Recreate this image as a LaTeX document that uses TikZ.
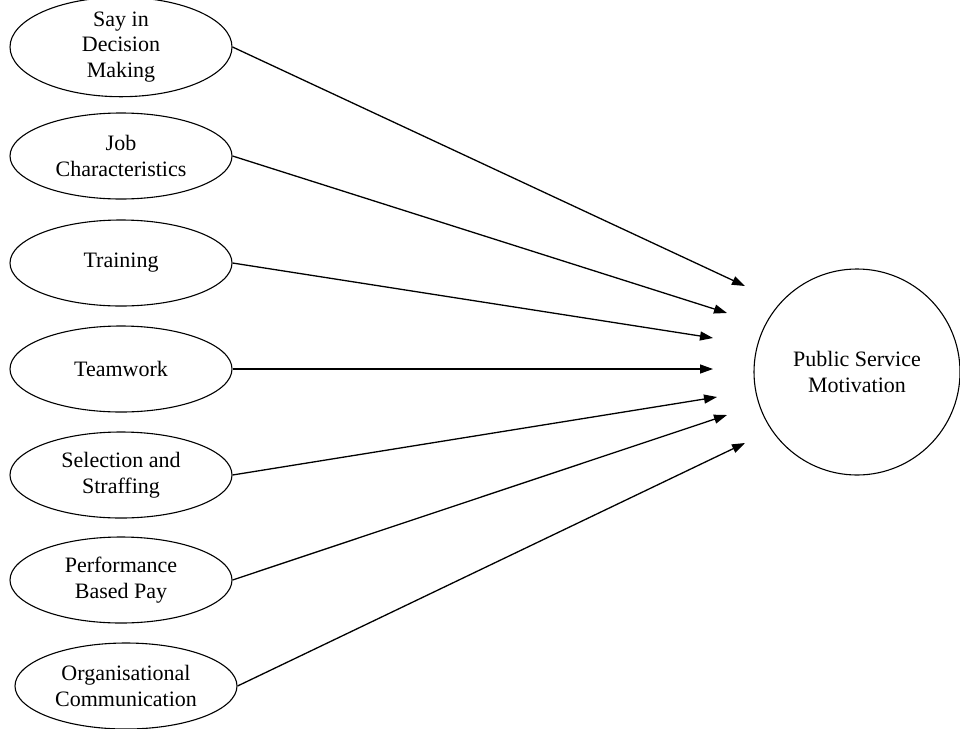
\documentclass[tikz,border=0pt]{standalone}
\usepackage{fontspec}
\setmainfont{Liberation Serif}
\usetikzlibrary{shapes.geometric,arrows.meta}
\begin{document}
\begin{tikzpicture}[x=1pt,y=-1pt,
  factor/.style={draw,line width=1.1pt,ellipse,minimum width=222pt,minimum height=86pt,
    inner sep=0pt,align=center,font=\fontsize{22}{25.5}\selectfont},
  outcome/.style={draw,line width=1.1pt,circle,minimum size=206pt,inner sep=0pt,
    align=center,font=\fontsize{22}{26}\selectfont},
  link/.style={line width=1.3pt,-{Triangle[length=13pt,width=9pt]}}]
\useasboundingbox (0,0) rectangle (960,728);

\node[factor] (say)  at (121,47)  {Say in\\Decision\\Making};
\node[factor] (job)  at (121,156) {Job\\Characteristics};
\node[factor] (trn)  at (121,263) {Training};
\node[factor] (team) at (121,369) {Teamwork};
\node[factor] (sel)  at (121,475) {Selection and\\Straffing};
\node[factor] (perf) at (121,580) {Performance\\Based Pay};
\node[factor] (org)  at (126,686) {Organisational\\Communication};

\node[outcome] (psm) at (857,372) {Public Service\\Motivation};

\coordinate (t1) at (745,286);
\coordinate (t2) at (727,313);
\coordinate (t3) at (713,338);
\coordinate (t4) at (713,369);
\coordinate (t5) at (717,397);
\coordinate (t6) at (727,415);
\coordinate (t7) at (745,443);

\draw[link] (say.east)  -- (t1);
\draw[link] (job.east)  -- (t2);
\draw[link] (trn.east)  -- (t3);
\draw[link] (team.east) -- (t4);
\draw[link] (sel.east)  -- (t5);
\draw[link] (perf.east) -- (t6);
\draw[link] (org.east)  -- (t7);
\end{tikzpicture}
\end{document}
